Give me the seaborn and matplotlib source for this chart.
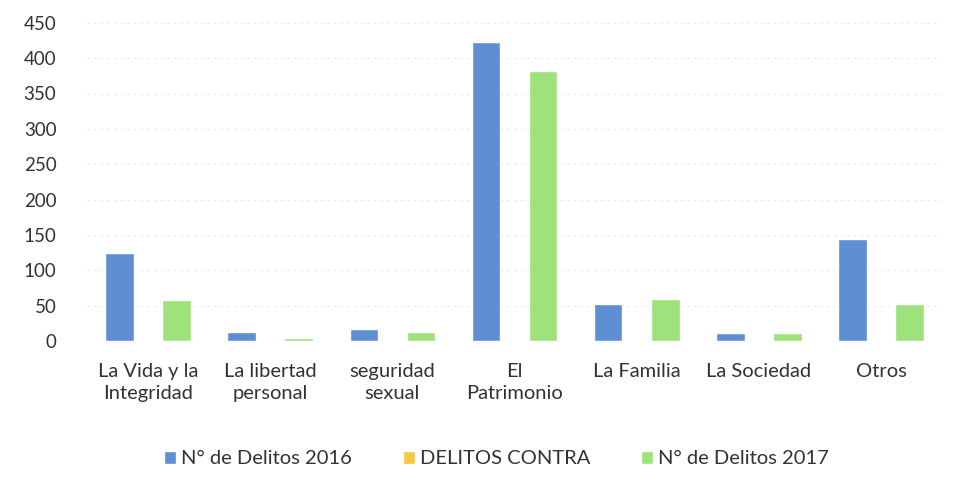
import pandas as pd
import matplotlib.pyplot as plt
import seaborn as sns

# Data
categories = ['La Vida y la\nIntegridad', 'La libertad\npersonal', 'seguridad\nsexual',
              'El\nPatrimonio', 'La Familia', 'La Sociedad', 'Otros']
series_names = ['N° de Delitos 2016', 'DELITOS CONTRA', 'N° de Delitos 2017']
delitos_2016 = [124, 13, 17, 423, 52, 11, 144]
delitos_contra = [0, 0, 0, 0, 0, 0, 0]
delitos_2017 = [58, 5, 13, 382, 60, 12, 52]
y_ticks = [0, 50, 100, 150, 200, 250, 300, 350, 400, 450]

colors = ['#5d8fd2', '#f7c645', '#9ee27c']

df = pd.DataFrame({
    'categoria': categories * 3,
    'serie': [s for s in series_names for _ in categories],
    'valor': delitos_2016 + delitos_contra + delitos_2017,
})

sns.set_theme(style='white')
plt.rcParams['font.family'] = ['Lato', 'DejaVu Sans']

fig = plt.figure(figsize=(9.62, 4.95), dpi=100)
ax = fig.add_axes([0.0904, 0.311, 0.889, 0.643])

sns.barplot(data=df, x='categoria', y='valor', hue='serie', order=categories,
            hue_order=series_names, palette=colors, width=0.7, gap=0,
            saturation=1, legend=True, ax=ax)

ax.set_ylim(0, 450)
ax.set_yticks(y_ticks)
ax.yaxis.grid(True, color='#e6e6e6', linestyle=(0, (2, 4)), linewidth=0.8)
ax.set_axisbelow(True)
ax.set_xlabel('')
ax.set_ylabel('')
ax.tick_params(axis='y', labelsize=13.5, pad=22, length=0, labelcolor='#333333')
ax.tick_params(axis='x', labelsize=14.5, pad=16, length=0, labelcolor='#333333')
for lbl in ax.get_xticklabels():
    lbl.set_linespacing(1.35)
for s in ax.spines.values():
    s.set_visible(False)

handles, labels = ax.get_legend_handles_labels()
ax.get_legend().remove()
fig.legend(handles, labels, loc='center', bbox_to_anchor=(0.516, 0.073), ncol=3,
           frameon=False, fontsize=14.5, handlelength=0.6, handleheight=0.6,
           handletextpad=0.25, columnspacing=2.5, labelcolor='#333333')

fig.savefig('out.png', dpi=100)
